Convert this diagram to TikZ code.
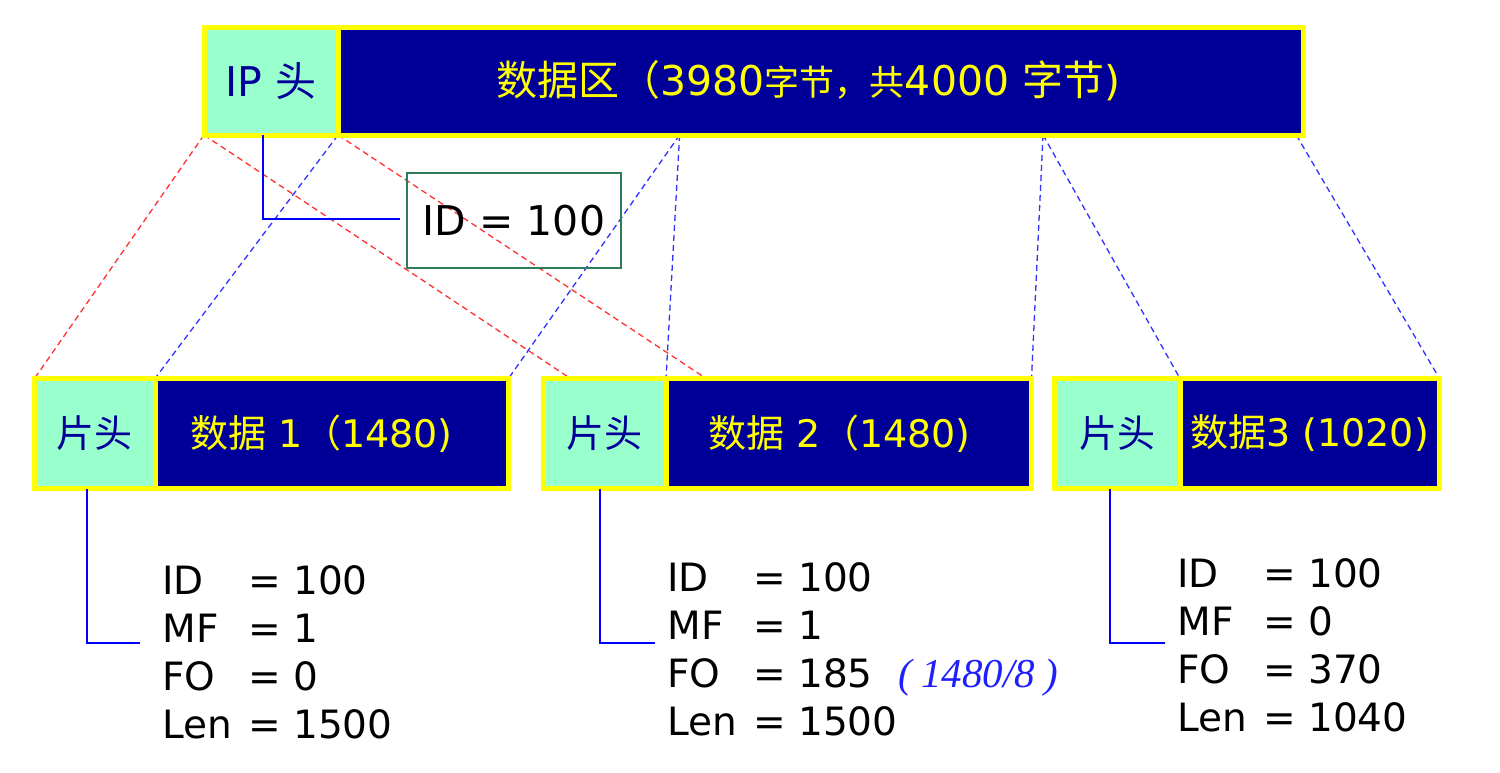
\documentclass[tikz,border=0pt]{standalone}
\usepackage{fontspec}
\setmainfont{DejaVu Sans}
\newfontfamily\cjk{Noto Sans CJK SC}
\newfontfamily\tnr{Liberation Serif}
\usetikzlibrary{calc,backgrounds}
\definecolor{navy}{RGB}{0,0,153}
\definecolor{mint}{RGB}{153,255,204}
\definecolor{ylw}{RGB}{255,255,0}
\definecolor{boxgreen}{RGB}{46,125,90}
\definecolor{lblue}{RGB}{50,50,255}
\definecolor{lred}{RGB}{255,50,50}
\definecolor{cblue}{RGB}{0,0,255}
\definecolor{noteblue}{RGB}{30,30,255}
\begin{document}
\begin{tikzpicture}[x=0.5pt,y=-0.5pt,
  cell/.style={draw=ylw, line width=2.5pt, inner sep=0pt, outer sep=0pt},
  hdr/.style={cell, fill=mint, text=navy},
  dat/.style={cell, fill=navy, text=ylw},
  bigfont/.style={font=\fontsize{20.5}{24}\selectfont},
  fragfont/.style={font=\fontsize{19}{24}\selectfont},
  bluedash/.style={draw=lblue, dash pattern=on 3pt off 2pt, line width=0.65pt},
  reddash/.style={draw=lred, dash pattern=on 3pt off 2pt, line width=0.65pt},
  conn/.style={draw=cblue, line width=0.8pt},
  fields/.style={anchor=base west, inner sep=0pt, font=\fontsize{19.5}{24}\selectfont},
]
\useasboundingbox (0,0) rectangle (1500,772);

% top datagram
\node[dat, bigfont, minimum width=482.5pt, minimum height=54pt] (ipd) at (820.5,81)
  {{\cjk 数据区（}3980{\cjk\fontsize{17.5}{24}\selectfont 字节，共}4000 {\cjk 字节})\kern12pt};
\node[hdr, bigfont, minimum width=67pt, minimum height=54pt] (iph) at (271,81) {IP {\cjk 头}};

% ID box
\node[draw=boxgreen, line width=0.6pt, inner sep=0pt, bigfont,
      minimum width=107pt, minimum height=47.5pt] (idb) at (514,220.5) {ID = 100};

% fragment 1
\node[dat, fragfont, minimum width=176.75pt, minimum height=55pt] (f1d) at (331.75,433.5)
  {{\cjk 数据} 1{\cjk （}1480)\kern10pt};
\node[hdr, fragfont, minimum width=60.25pt, minimum height=55pt] (f1h) at (94.75,433.5) {{\cjk 片头}};
% fragment 2
\node[dat, fragfont, minimum width=182.75pt, minimum height=55pt] (f2d) at (848.75,433.5)
  {{\cjk 数据} 2{\cjk （}1480)\kern9pt};
\node[hdr, fragfont, minimum width=61.25pt, minimum height=55pt] (f2h) at (604.75,433.5) {{\cjk 片头}};
% fragment 3
\node[dat, fragfont, minimum width=129.75pt, minimum height=55pt] (f3d) at (1309.75,433.5)
  {{\cjk 数据}3 (1020)};
\node[hdr, fragfont, minimum width=62.75pt, minimum height=55pt] (f3h) at (1117.25,433.5) {{\cjk 片头}};

% field blocks
\node[fields] (t1) at (162,594) {\begin{tabular}[t]{@{}l@{\hspace{8pt}}l@{}}ID & = 100\\ MF & = 1\\ FO & = 0\\ Len & = 1500\end{tabular}};
\node[fields] (t2) at (667,591) {\begin{tabular}[t]{@{}l@{\hspace{8pt}}l@{}}ID & = 100\\ MF & = 1\\ FO & = 185\hspace{13pt}{\color{noteblue}\tnr\itshape\fontsize{20.5}{24}\selectfont (\hspace{4.5pt}1480/8\hspace{4.5pt})}\\ Len & = 1500\end{tabular}};
\node[fields] (t3) at (1177,587) {\begin{tabular}[t]{@{}l@{\hspace{8pt}}l@{}}ID & = 100\\ MF & = 0\\ FO & = 370\\ Len & = 1040\end{tabular}};

% connector ends
\coordinate (e0) at (400,219);
\coordinate (e1) at (140,643);
\coordinate (e2) at (655,643);
\coordinate (e3) at (1165,643);

% split points on the data area
\coordinate (s1) at ($(ipd.south west)!0.354!(ipd.south east)$);
\coordinate (s2) at ($(ipd.south west)!0.7306!(ipd.south east)$);
\coordinate (s3) at ($(ipd.south west)!0.993!(ipd.south east)$);
\coordinate (r1) at ($(f2h.north west)!0.22!(f2h.north east)$);
\coordinate (r2) at ($(f2d.north west)!0.11!(f2d.north east)$);

\begin{scope}[on background layer]
  \fill[white] (0,0) rectangle (1500,772);
  \draw[reddash] (iph.south west) -- (f1h.north west);
  \draw[reddash] (iph.south west) -- (r1);
  \draw[reddash] (iph.south east) -- (r2);
  \draw[bluedash] (iph.south east) -- (f1d.north west);
  \draw[bluedash] (s1) -- (f1d.north east);
  \draw[bluedash] (s1) -- (f2d.north west);
  \draw[bluedash] (s2) -- (f2d.north east);
  \draw[bluedash] (s2) -- (f3d.north west);
  \draw[bluedash] (s3) -- (f3d.north east);
\end{scope}

\draw[conn] ([xshift=-4pt]iph.south) |- (e0);
\draw[conn] ([xshift=-4pt]f1h.south) |- (e1);
\draw[conn] ([xshift=-2.4pt]f2h.south) |- (e2);
\draw[conn] ([xshift=-3.6pt]f3h.south) |- (e3);
\end{tikzpicture}
\end{document}
